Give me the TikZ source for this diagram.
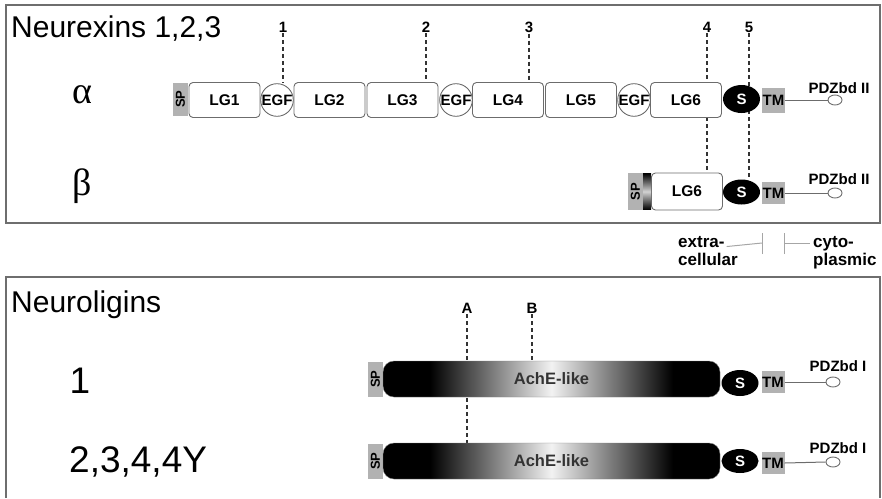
\documentclass[tikz,border=0pt]{standalone}
\usepackage{fontspec}
\setmainfont{Liberation Sans}
\newfontfamily\greekfont{Liberation Serif}
\usepackage{tikz}
\usetikzlibrary{shapes.geometric,backgrounds}
\definecolor{domgray}{RGB}{178,178,178}
\definecolor{framegray}{RGB}{110,110,110}
\pgfdeclarehorizontalshading{achefade}{100bp}{color(0bp)=(black); color(32bp)=(black);
  color(50bp)=(white!95!black); color(68bp)=(black); color(100bp)=(black)}

\begin{document}
\begin{tikzpicture}[
  x=1pt, y=-1pt,
  lgbox/.style={rectangle, draw=gray!85!black, fill=white, line width=0.9pt, rounded corners=4pt,
    inner sep=0pt, minimum width=71pt, minimum height=35pt, font=\bfseries\fontsize{15.5}{17}\selectfont},
  egf/.style={circle, draw=gray!85!black, fill=white, line width=0.9pt, minimum size=32pt,
    inner sep=0pt, font=\bfseries\fontsize{15}{17}\selectfont},
  spbox/.style={rectangle, fill=domgray, rotate=90, inner sep=0pt,
    minimum height=15pt, font=\bfseries\fontsize{13}{13}\selectfont},
  tmbox/.style={rectangle, fill=domgray, inner sep=0pt, minimum width=23pt,
    font=\bfseries\fontsize{15}{17}\selectfont},
  sdom/.style={ellipse, fill=black, text=white, inner sep=0pt, minimum width=37pt,
    font=\bfseries\fontsize{15}{17}\selectfont},
  pdzend/.style={ellipse, draw=gray!85!black, fill=white, line width=0.9pt, inner sep=0pt,
    minimum width=14pt, minimum height=10pt},
  pdzlabel/.style={font=\bfseries\fontsize{15}{17}\selectfont, inner sep=0pt},
  ache/.style={rectangle, shade, shading=achefade, draw=gray, rounded corners=11pt,
    inner sep=0pt, minimum width=337pt, minimum height=36pt,
    font=\bfseries\fontsize{16.5}{18}\selectfont, text=black!80},
  site/.style={font=\bfseries\fontsize{15}{16}\selectfont, inner sep=1pt},
  cut/.style={dashed, dash pattern=on 4pt off 3pt, line width=1.6pt, black!80},
  tether/.style={draw=gray!85!black, line width=1pt},
  membrane/.style={draw=gray!70, line width=1pt},
  sidelabel/.style={font=\bfseries\fontsize{17}{18}\selectfont, inner sep=0pt, anchor=base west},
  frame/.style={draw=framegray, line width=1.3pt}
]
\useasboundingbox (0,0) rectangle (882,498);

% frames
\draw[frame] (6,5) rectangle (880,223);
\draw[frame] (6,498) -- (6,277) -- (880,277) -- (880,498);

% Neurexins: headings
\node[anchor=base west, inner sep=0pt, font=\fontsize{30}{32}\selectfont] (nrxtitle) at (11,37) {Neurexins 1,2,3};
\node[inner sep=0pt, font=\greekfont\fontsize{38}{40}\selectfont] (alpha) at (82,95) {α};
\node[inner sep=0pt, font=\greekfont\fontsize{38}{40}\selectfont] (beta) at (82,186) {β};

% alpha-neurexin domains
\node[spbox, minimum width=33pt] (sp-a) at (180.5,99) {SP};
\node[lgbox] (lg1) at (224.5,100) {LG1};
\node[egf] (egf1) at (277,100) {EGF};
\node[lgbox] (lg2) at (329.5,100) {LG2};
\node[lgbox] (lg3) at (402.5,100) {LG3};
\node[egf] (egf2) at (456,100) {EGF};
\node[lgbox] (lg4) at (508,100) {LG4};
\node[lgbox] (lg5) at (581,100) {LG5};
\node[egf] (egf3) at (634,100) {EGF};
\node[lgbox] (lg6) at (686,100) {LG6};
\node[sdom, minimum height=28pt] (s-a) at (741.5,99) {S};
\node[tmbox, minimum height=25pt] (tm-a) at (773.5,100) {TM};
\node[pdzend] (pdz-a) at (835,100) {};
\node[pdzlabel] (pdzlab-a) at (839,88) {PDZbd II};
\draw[tether] (tm-a.east) -- (pdz-a.west);

% beta-neurexin domains
\node[spbox, minimum width=37pt] (sp-b) at (635.5,191.5) {SP};
\node[lgbox, minimum height=37pt] (lg6-b) at (687,191.5) {LG6};
\shade[top color=black, bottom color=black, middle color=gray!35] (643,173.5) rectangle (651,209.5);
\node[sdom, minimum height=25pt] (s-b) at (741.5,192) {S};
\node[tmbox, minimum height=22pt] (tm-b) at (773.5,193) {TM};
\node[pdzend] (pdz-b) at (835,193) {};
\node[pdzlabel] (pdzlab-b) at (839,179) {PDZbd II};
\draw[tether] (tm-b.east) -- (pdz-b.west);

% splice sites
\node[site] (ss1) at (283,27) {1};
\node[site] (ss2) at (426,27) {2};
\node[site] (ss3) at (529,27) {3};
\node[site] (ss4) at (707,27) {4};
\node[site] (ss5) at (749,27) {5};
\begin{scope}[on background layer]
  \draw[cut] (ss1.south) -- (ss1.south |- egf1.north);
  \draw[cut] (ss2.south) -- (ss2.south |- lg3.north);
  \draw[cut] (ss3.south) -- (ss3.south |- lg4.north);
  \draw[cut] (ss4.south) -- (ss4.south |- lg6-b.north);
  \draw[cut] (ss5.south) -- ([yshift=1pt]ss5.south |- s-b.north);
\end{scope}

% membrane legend
\node[sidelabel] (extra1) at (678,247) {extra-};
\node[sidelabel] (extra2) at (678,265) {cellular};
\node[sidelabel] (cyto1) at (813,247) {cyto-};
\node[sidelabel] (cyto2) at (813,265) {plasmic};
\coordinate (memL) at (762,243);
\coordinate (memR) at (784,243);
\draw[membrane] ([xshift=2pt,yshift=-5pt]extra1.east) -- (memL);
\draw[membrane] ([yshift=-11pt]memL) -- ([yshift=10pt]memL);
\draw[membrane] ([yshift=-11pt]memR) -- ([yshift=10pt]memR);
\draw[membrane] (memR) -- ([xshift=-3pt]memR -| cyto1.west);

% Neuroligins: headings
\node[anchor=base west, inner sep=0pt, font=\fontsize{30}{32}\selectfont] (nlgtitle) at (11,312) {Neuroligins};
\node[anchor=base, inner sep=0pt, font=\fontsize{37}{39}\selectfont] (nlg1) at (80,393) {1};
\node[anchor=base west, inner sep=0pt, font=\fontsize{37}{39}\selectfont] (nlg2) at (69,472) {2,3,4,4Y};

% neuroligin 1
\node[spbox, minimum width=35pt] (sp-n1) at (375.5,379) {SP};
\node[ache] (ache-n1) at (551.5,379) {AchE-like};
\node[sdom, minimum height=26pt] (s-n1) at (740,383) {S};
\node[tmbox, minimum height=22pt] (tm-n1) at (773,382) {TM};
\node[pdzend] (pdz-n1) at (833,382) {};
\node[pdzlabel] (pdzlab-n1) at (838,366) {PDZbd I};
\draw[tether] (tm-n1.east) -- (pdz-n1.west);

% neuroligins 2,3,4,4Y
\node[spbox, minimum width=35pt] (sp-n2) at (375.5,461) {SP};
\node[ache] (ache-n2) at (551.5,461) {AchE-like};
\node[sdom, minimum height=24pt] (s-n2) at (740,461) {S};
\node[tmbox, minimum height=22pt] (tm-n2) at (773,463) {TM};
\node[pdzend] (pdz-n2) at (833,462) {};
\node[pdzlabel] (pdzlab-n2) at (838,448) {PDZbd I};
\draw[tether] (tm-n2.east) -- (pdz-n2.west);

% splice sites A, B
\node[site] (ssA) at (467,308) {A};
\node[site] (ssB) at (532,308) {B};
\begin{scope}[on background layer]
  \draw[cut] (ssA.south) -- (ssA.south |- ache-n2.north);
  \draw[cut] (ssB.south) -- (ssB.south |- ache-n1.north);
\end{scope}
\end{tikzpicture}
\end{document}
